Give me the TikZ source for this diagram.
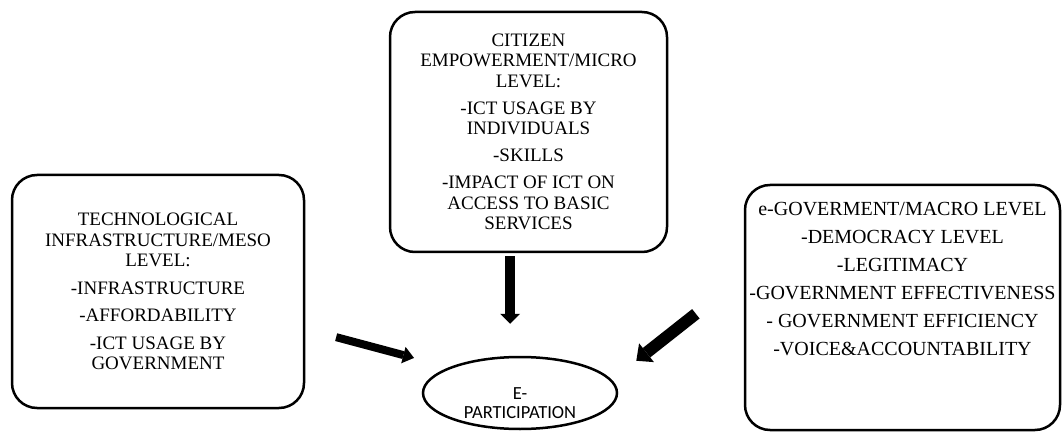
\documentclass[tikz,border=0pt]{standalone}
\usepackage{fontspec}
\setmainfont{Liberation Serif}
\newfontfamily\ovalfont{Carlito}
\usetikzlibrary{arrows.meta,shapes.geometric}

\begin{document}
\begin{tikzpicture}[x=1pt, y=-1pt,
    box/.style={draw, line width=2.5pt, rounded corners=25pt, align=center, inner sep=0pt,
      font=\fontsize{19}{20.5}\selectfont},
    boxtext/.style={align=center, inner sep=0pt, font=\fontsize{20}{20.5}\selectfont},
    oval/.style={draw, ellipse, line width=2.5pt, inner sep=0pt},
    fat/.style n args={3}{line width=#1, -{Triangle[width=#2, length=#3, line width=0pt]}}]

    \useasboundingbox (0,0) rectangle (1062,446);

    \node[box, minimum width=292pt, minimum height=233pt] (tech) at (158,291.5)
      {TECHNOLOGICAL\\INFRASTRUCTURE/MESO\\LEVEL:\\[7pt]-INFRASTRUCTURE\\[7pt]-AFFORDABILITY\\[7pt]-ICT USAGE BY\\GOVERNMENT};
    \node[box, minimum width=277pt, minimum height=240pt] (cit) at (528.5,132)
      {CITIZEN\\EMPOWERMENT/MICRO\\LEVEL:\\[6.5pt]-ICT USAGE BY\\INDIVIDUALS\\[6.5pt]-SKILLS\\[6.5pt]-IMPACT OF ICT ON\\ACCESS TO BASIC\\SERVICES};
    \node[box, minimum width=315pt, minimum height=245pt] (gov) at (902.5,307.5) {};
    \node[boxtext, anchor=north] (govtext) at ([yshift=-18pt]gov.north)
      {e-GOVERMENT/MACRO LEVEL\\[7.5pt]-DEMOCRACY LEVEL\\[7.5pt]-LEGITIMACY\\[7.5pt]-GOVERNMENT EFFECTIVENESS\\[7.5pt]- GOVERNMENT EFFICIENCY\\[7.5pt]-VOICE\&ACCOUNTABILITY};

    \node[oval, minimum width=194pt, minimum height=72pt] (part) at (520,393) {};
    \node[align=center, inner sep=0pt, font=\ovalfont\fontsize{18.5}{18.5}\selectfont] (parttext) at (520,403) {E-\\PARTICIPATION};

    % arrows into e-participation
    \draw[fat={8pt}{17pt}{11pt}, shorten <=32pt, shorten >=8pt] ([yshift=-37.4pt]tech.east) -- ([yshift=33pt]part.west);
    \draw[fat={10pt}{20pt}{10pt}, shorten <=3pt, shorten >=32pt] ([xshift=-18.5pt]cit.south) -- ([xshift=-10pt]part.north);
    \draw[fat={12pt}{24pt}{13pt}, shorten <=61pt, shorten >=23pt] ([yshift=31.5pt]gov.west) -- ([yshift=18pt]part.east);

\end{tikzpicture}
\end{document}
